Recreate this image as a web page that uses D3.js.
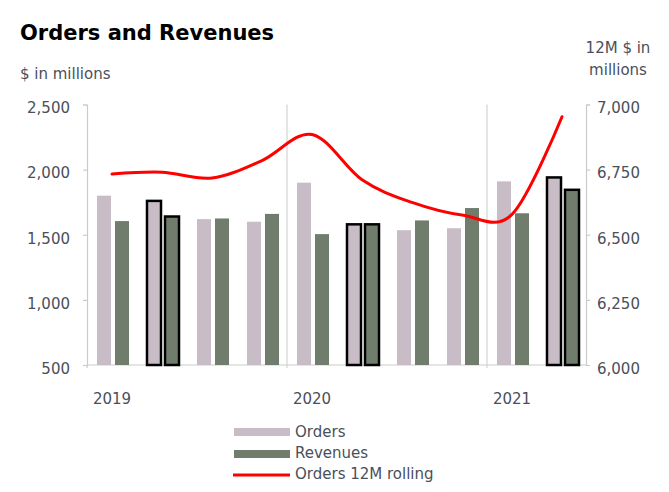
<!DOCTYPE html>
<html>
<head>
<meta charset="utf-8">
<script src="https://cdn.jsdelivr.net/npm/d3@7"></script>
<style>
  html, body { margin: 0; padding: 0; background: #fff; }
  svg { display: block; }
  text { font-family: "DejaVu Sans", Verdana, sans-serif; }
</style>
</head>
<body>
<svg id="chart" width="669" height="492"></svg>
<script>
// ---- data ----
const quarters = ["Q1 2019","Q2 2019","Q3 2019","Q4 2019","Q1 2020","Q2 2020","Q3 2020","Q4 2020","Q1 2021","Q2 2021"];
const years = ["2019","2020","2021"];
const yearStartQuarter = ["Q1 2019","Q1 2020","Q1 2021"];
const orders   = [1800, 1760, 1620, 1600, 1900, 1580, 1535, 1550, 1910, 1940];
const revenues = [1605, 1640, 1625, 1660, 1505, 1580, 1610, 1705, 1665, 1845];
const rolling  = [6733, 6740, 6718, 6785, 6885, 6711, 6624, 6576, 6578, 6953];
const highlighted = [false, true, false, false, false, true, false, false, false, true];
const leftTicks = [500, 1000, 1500, 2000, 2500];
const rightTicks = [6000, 6250, 6500, 6750, 7000];
const seriesNames = ["Orders", "Revenues", "Orders 12M rolling"];

// ---- layout ----
const svg = d3.select("#chart");
const L = 87, R = 587, T = 104.5, B = 365;
const axisColor = "#c9cdc9";
const textColor = "#4a4f5a";
const colOrders = "#c8bdc6";
const colRevenues = "#707d6c";

const x = d3.scaleBand().domain(quarters).range([L, R]).padding(0);
const sub = d3.scaleBand().domain(["Orders", "Revenues"]).range([10, 42]).paddingInner(2 - 32 / 18);
const yL = d3.scaleLinear().domain([500, 2500]).range([B, T]);
const yR = d3.scaleLinear().domain([6000, 7000]).range([B, T]);

// title
svg.append("text").attr("x", 20).attr("y", 40).attr("font-size", 21).attr("font-weight", "bold")
  .attr("fill", "#000").text("Orders and Revenues");
svg.append("text").attr("x", 20).attr("y", 79).attr("font-size", 15).attr("fill", textColor)
  .text("$ in millions");
const rt = svg.append("text").attr("font-size", 15).attr("fill", textColor).attr("text-anchor", "middle");
rt.append("tspan").attr("x", 618).attr("y", 53).text("12M $ in");
rt.append("tspan").attr("x", 618).attr("y", 75).text("millions");

// year gridlines
const gridX = [x(yearStartQuarter[1]), x(yearStartQuarter[2])];
svg.append("g").selectAll("line").data(gridX).join("line")
  .attr("x1", d => d).attr("x2", d => d).attr("y1", T).attr("y2", B + 3)
  .attr("stroke", axisColor).attr("stroke-width", 1);

// axes
const gL = svg.append("g").attr("transform", `translate(${L},0)`)
  .call(d3.axisLeft(yL).tickValues(leftTicks).tickFormat(d3.format(",")).tickSize(4).tickPadding(13));
const gR = svg.append("g").attr("transform", `translate(${R - 1},0)`)
  .call(d3.axisRight(yR).tickValues(rightTicks).tickFormat(d3.format(",")).tickSize(4).tickPadding(7));
[gL, gR].forEach(g => {
  g.select(".domain").attr("stroke", axisColor).attr("stroke-width", 1.2);
  g.selectAll(".tick line").attr("stroke", axisColor).attr("stroke-width", 1.2);
  g.selectAll(".tick text").attr("fill", textColor).attr("font-size", 15)
    .attr("font-family", "DejaVu Sans, Verdana, sans-serif").attr("dy", "0.55em");
});

// bottom axis line with year ticks
svg.append("line").attr("x1", L).attr("x2", R).attr("y1", B).attr("y2", B)
  .attr("stroke", axisColor).attr("stroke-width", 1.2);
svg.append("line").attr("x1", L).attr("x2", L).attr("y1", B).attr("y2", B + 3)
  .attr("stroke", axisColor).attr("stroke-width", 1.2);

// year labels
svg.append("g").selectAll("text").data(years).join("text")
  .attr("x", (d, i) => x(yearStartQuarter[i]) + x.bandwidth() / 2)
  .attr("y", 404).attr("text-anchor", "middle").attr("font-size", 15).attr("fill", textColor)
  .text(d => d);

// bars
const barData = [];
quarters.forEach((q, i) => {
  barData.push({ q, key: "Orders", v: orders[i], hl: highlighted[i] });
  barData.push({ q, key: "Revenues", v: revenues[i], hl: highlighted[i] });
});
svg.append("g").selectAll("rect").data(barData).join("rect")
  .attr("x", d => x(d.q) + sub(d.key))
  .attr("width", sub.bandwidth())
  .attr("y", d => yL(d.v))
  .attr("height", d => yL(500) - yL(d.v))
  .attr("fill", d => d.key === "Orders" ? colOrders : colRevenues)
  .attr("stroke", d => d.hl ? "#000" : "none")
  .attr("stroke-width", 2.5);

// rolling line
const line = d3.line()
  .x((d, i) => x(quarters[i]) + x.bandwidth() / 2)
  .y(d => yR(d))
  .curve(d3.curveCardinal.tension(0));
svg.append("path").datum(rolling).attr("d", line)
  .attr("fill", "none").attr("stroke", "#ff0000").attr("stroke-width", 3)
  .attr("stroke-linejoin", "round").attr("stroke-linecap", "round");

// legend
const lg = svg.append("g");
lg.append("rect").attr("x", 234).attr("y", 428).attr("width", 56).attr("height", 8).attr("fill", colOrders);
lg.append("rect").attr("x", 234).attr("y", 450).attr("width", 56).attr("height", 8).attr("fill", colRevenues);
lg.append("line").attr("x1", 233).attr("x2", 290).attr("y1", 475).attr("y2", 475)
  .attr("stroke", "#ff0000").attr("stroke-width", 3);
lg.selectAll("text").data(seriesNames).join("text")
  .attr("x", 295).attr("y", (d, i) => 437 + i * 21)
  .attr("font-size", 15).attr("fill", textColor).text(d => d);
</script>
</body>
</html>
